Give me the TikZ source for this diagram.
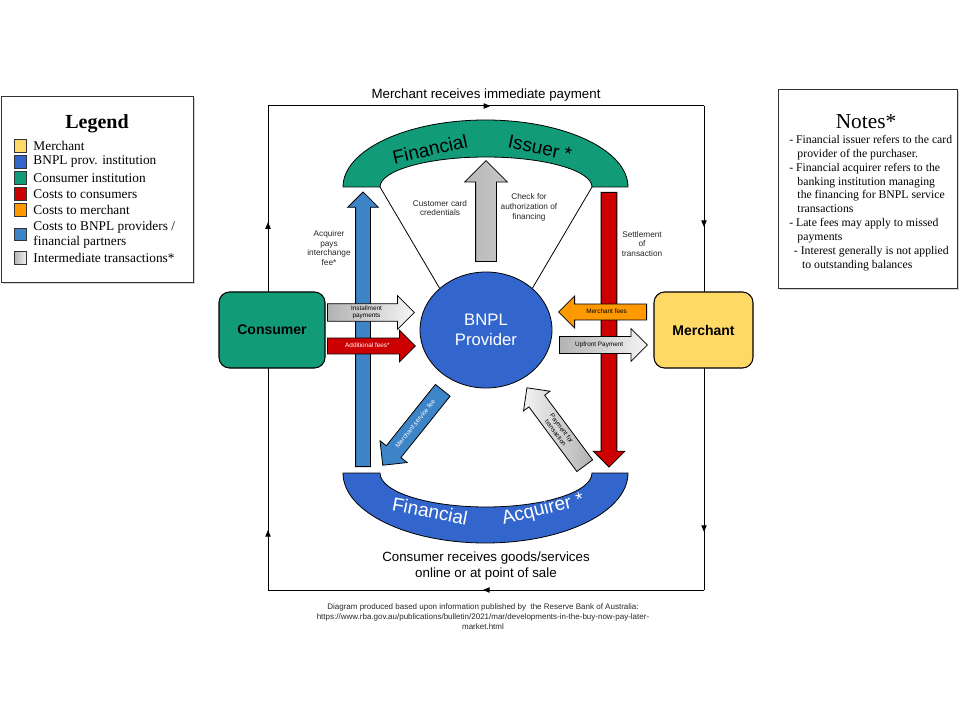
\documentclass[tikz,border=0pt]{standalone}
\usepackage{fontspec}
\setmainfont{Liberation Serif}
\setsansfont{Liberation Sans}
\usetikzlibrary{positioning}
\usetikzlibrary{shapes.geometric}
\usetikzlibrary{shapes.arrows}
\usetikzlibrary{shadows}
\usetikzlibrary{arrows.meta}
\usetikzlibrary{decorations.markings}

\definecolor{merchantyellow}{HTML}{FFD966}
\definecolor{bnplblue}{HTML}{3366CC}
\definecolor{consumergreen}{HTML}{119B78}
\definecolor{costred}{HTML}{CC0000}
\definecolor{costorange}{HTML}{FF9900}
\definecolor{partnerblue}{HTML}{3D85C6}

\begin{document}
\begin{tikzpicture}[x=0.75pt,y=0.75pt,font=\sffamily,
  outline/.style={draw=black,line width=0.6pt},
  blockarrow/.style={single arrow,outline,inner xsep=0.5pt,anchor=tail,
    single arrow head extend=6pt,align=center,font=\sffamily\fontsize{4.8}{5.6}\selectfont},
  oneline/.style={text height=3.5pt,text depth=1pt},
  party/.style={outline,line width=0.8pt,rounded corners=8pt,minimum height=57pt,
    font=\sffamily\bfseries\fontsize{10.5}{12}\selectfont},
  sidelabel/.style={align=center,font=\sffamily\fontsize{6.2}{7.4}\selectfont,text=black!85},
  bandtext/.style={font=\sffamily\fontsize{14.3}{16}\selectfont},
  flowmark/.style={postaction={decorate},decoration={markings,
    mark=at position #1 with {\arrow{Triangle[length=5pt,width=4pt]}}}},
  flowmarks/.style 2 args={postaction={decorate},decoration={markings,
    mark=at position #1 with {\arrow{Triangle[length=5pt,width=4pt]}},
    mark=at position #2 with {\arrow{Triangle[length=5pt,width=4pt]}}}},
  infobox/.style={draw=black!80,line width=0.8pt,fill=white,inner sep=0pt,anchor=north west,
    drop shadow={shadow xshift=1.2pt,shadow yshift=-1.2pt,opacity=0.35}},
  swatch/.style={draw=black!80,line width=0.6pt,minimum size=9.5pt,inner sep=0pt},
  legtext/.style={font=\rmfamily\fontsize{10}{11.5}\selectfont,align=left,inner sep=0pt}
]
\useasboundingbox (0,0) rectangle (960,-720);

% outer loop
\coordinate (loop-sw) at (268,-590);
\coordinate (loop-nw) at (268,-106);
\coordinate (loop-ne) at (704,-106);
\coordinate (loop-se) at (704,-590);
\draw[line width=0.75pt,flowmarks={0.124}{0.76}] (loop-sw) -- (loop-nw);
\draw[line width=0.75pt,flowmark=0.51] (loop-nw) -- (loop-ne);
\draw[line width=0.75pt,flowmarks={0.25}{0.88}] (loop-ne) -- (loop-se);
\draw[line width=0.75pt,flowmark=0.507] (loop-se) -- (loop-sw);
\node[font=\sffamily\fontsize{10}{12}\selectfont] (top-label) at (486,-95) {Merchant receives immediate payment};
\node[align=center,font=\sffamily\fontsize{10}{12}\selectfont] (bottom-label) at (486,-566)
  {Consumer receives goods/services\\online or at point of sale};

% issuer and acquirer bands
\draw[outline,fill=consumergreen] (343,-187) arc[start angle=180,end angle=0,x radius=142.5,y radius=67]
  -- (592,-187) arc[start angle=0,end angle=180,x radius=106,y radius=30] -- cycle;
\draw[outline,fill=bnplblue] (343,-473) arc[start angle=180,end angle=360,x radius=142.5,y radius=70]
  -- (592,-473) arc[start angle=360,end angle=180,x radius=106,y radius=34] -- cycle;
\coordinate (iss-in-l) at (380,-187);
\coordinate (iss-in-r) at (592,-187);
\node[bandtext,rotate=13] (iss-word1) at (430,-149) {Financial};
\node[bandtext,rotate=-12] (iss-word2) at (540,-148) {Issuer *};
\node[bandtext,text=white,rotate=-11] (acq-word1) at (430,-511) {Financial};
\node[bandtext,text=white,rotate=14] (acq-word2) at (543,-510) {Acquirer *};

% provider
\node[ellipse,outline,fill=bnplblue,minimum width=99pt,minimum height=87pt,inner sep=0pt,
  text=white,align=center,font=\sffamily\fontsize{12.5}{15.5}\selectfont] (bnpl) at (486,-330) {BNPL\\Provider};
\draw[line width=0.6pt] (iss-in-l) -- (bnpl.138);
\draw[line width=0.6pt] (iss-in-r) -- (bnpl.42);

% authorisation
\node[blockarrow,inner ysep=7.5pt,left color=gray!55,middle color=gray!5,right color=gray!45,rotate=90,
  minimum height=75.75pt,minimum width=31.5pt,single arrow head extend=8.25pt] (authorise) at (486,-262) {};
\node[sidelabel] (card-label) at (440,-208) {Customer card\\credentials};
\node[sidelabel] (auth-label) at (529,-207) {Check for\\authorization of\\financing};

% vertical flows
\node[blockarrow,inner ysep=5.25pt,fill=partnerblue,rotate=90,minimum height=206pt,minimum width=22.5pt] (interchange) at (363,-467) {};
\node[blockarrow,inner ysep=5.6pt,fill=costred,rotate=-90,minimum height=206pt,minimum width=23pt] (settlement) at (609,-192) {};
\node[sidelabel] (interchange-label) at (329,-248) {Acquirer\\pays\\interchange\\fee*};
\node[sidelabel] (settlement-label) at (642,-244) {Settlement\\of\\transaction};

% horizontal flows
\node[blockarrow,inner ysep=1.3pt,left color=gray!60,right color=gray!8,minimum height=65.25pt,minimum width=24.75pt] (installment) at (327,-312.5) {Installment\\payments};
\node[blockarrow,oneline,inner ysep=3.4pt,fill=costred,text=white,minimum height=66pt,minimum width=24pt] (addfees) at (327,-346) {Additional fees*};
\node[blockarrow,oneline,inner ysep=3.4pt,fill=costorange,shape border rotate=180,minimum height=66pt,minimum width=24pt] (merchantfees) at (647,-312) {Merchant fees};
\node[blockarrow,oneline,inner ysep=3.75pt,left color=gray!60,right color=gray!8,minimum height=66pt,minimum width=24.75pt] (upfront) at (559,-345) {Upfront Payment};

% diagonal flows
\node[blockarrow,oneline,inner ysep=4.5pt,fill=partnerblue,text=white,rotate=51.3,shape border rotate=180,
  minimum height=72pt,minimum width=25.5pt] (servicefee) at (443,-390) {Merchant service fee};
\node[blockarrow,inner ysep=2.45pt,left color=gray!10,right color=gray!60,rotate=-53.4,shape border rotate=180,
  minimum height=72.75pt,minimum width=24.75pt,single arrow head extend=5pt] (txpayment) at (585,-466) {Payment for\\transaction};

% parties
\node[party,fill=consumergreen,minimum width=79.5pt] (consumer) at (272,-330) {Consumer};
\node[party,fill=merchantyellow,minimum width=74.25pt] (merchant) at (703.5,-330) {Merchant};

% legend
\node[infobox,minimum width=144pt,minimum height=139.5pt] (legend) at (1,-96) {};
\node[font=\rmfamily\bfseries\fontsize{15}{18}\selectfont] (legend-title) at (97,-124) {Legend};
\foreach \col/\txt/\yy [count=\i] in {merchantyellow/Merchant/146,bnplblue/BNPL prov. institution/162,
    consumergreen/Consumer institution/178,costred/Costs to consumers/194,costorange/Costs to merchant/210,
    partnerblue/{Costs to BNPL providers /\\financial partners}/234.5} {
  \node[swatch,fill=\col] (sw-\i) at (20.5,-\yy) {};
  \node[legtext,right=4.5pt of sw-\i] (leg-\i) {\txt};
}
\node[swatch,left color=gray!60,right color=gray!10] (sw-7) at (20.5,-258) {};
\node[legtext,right=4.5pt of sw-7] (leg-7) {Intermediate transactions*};

% notes
\node[infobox,minimum width=134.25pt,minimum height=149.25pt] (notes) at (778,-89) {};
\node[font=\rmfamily\fontsize{16}{18}\selectfont] (notes-title) at (866,-122) {Notes*};
\node[anchor=north west,align=left,inner sep=0pt,font=\rmfamily\fontsize{8.8}{10.4}\selectfont] (notes-body) at (789,-135)
  {- Financial issuer refers to the card\\
   \hspace*{0.7em}provider of the purchaser.\\
   - Financial acquirer refers to the\\
   \hspace*{0.7em}banking institution managing\\
   \hspace*{0.7em}the financing for BNPL service\\
   \hspace*{0.7em}transactions\\
   - Late fees may apply to missed\\
   \hspace*{0.7em}payments\\
   \hspace*{0.4em}- Interest generally is not applied\\
   \hspace*{1.1em}to outstanding balances};

% source
\node[align=center,font=\sffamily\fontsize{6}{7.5}\selectfont,text=black!85] (source) at (483,-617)
  {Diagram produced based upon information published by~ the Reserve Bank of Australia:\\
   https://www.rba.gov.au/publications/bulletin/2021/mar/developments-in-the-buy-now-pay-later-\\
   market.html};
\end{tikzpicture}
\end{document}
